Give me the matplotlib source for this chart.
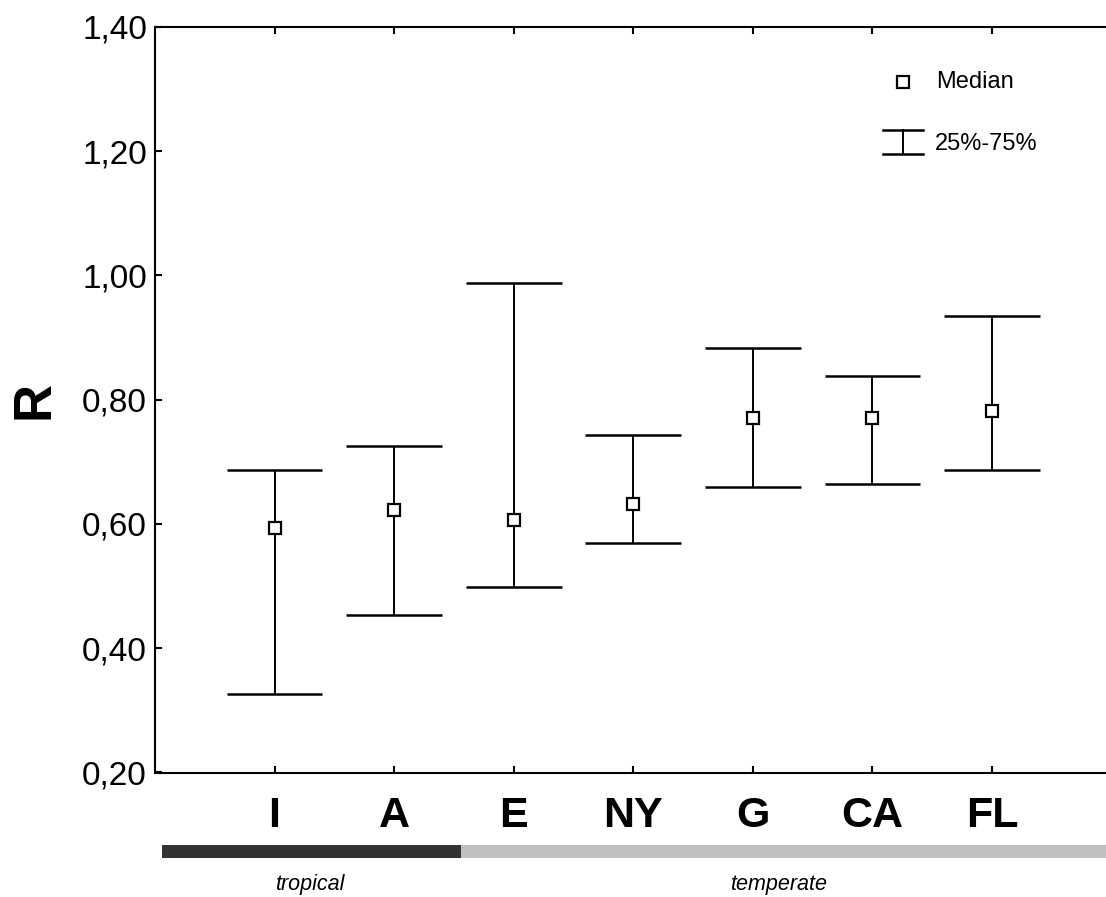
import matplotlib
matplotlib.use("Agg")
import matplotlib.pyplot as plt
from matplotlib.patches import Rectangle

# medians with 25%-75% quartile ranges per site
sites = ["I", "A", "E", "NY", "G", "CA", "FL"]
median = [0.594, 0.623, 0.607, 0.632, 0.771, 0.771, 0.781]
q25 = [0.327, 0.454, 0.498, 0.570, 0.660, 0.664, 0.687]
q75 = [0.687, 0.725, 0.987, 0.743, 0.883, 0.838, 0.935]

yticks = [0.20, 0.40, 0.60, 0.80, 1.00, 1.20, 1.40]
ytick_labels = ["0,20", "0,40", "0,60", "0,80", "1,00", "1,20", "1,40"]

plt.rcParams["font.family"] = ["Liberation Sans", "DejaVu Sans"]

fig = plt.figure(figsize=(11.06, 8.97), dpi=100)
ax = fig.add_axes([155 / 1106, 1 - 772.5 / 897, 951 / 1106, 745.8 / 897])

x = list(range(1, len(sites) + 1))
cap_half = 0.4

ax.vlines(x, q25, q75, color="black", lw=1.4, zorder=2)
ax.hlines(q25, [xi - cap_half for xi in x], [xi + cap_half for xi in x],
          color="black", lw=1.8, zorder=2)
ax.hlines(q75, [xi - cap_half for xi in x], [xi + cap_half for xi in x],
          color="black", lw=1.8, zorder=2)
ax.plot(x, median, ls="none", marker="s", ms=8, mfc="white",
        mec="black", mew=1.6, zorder=3)

ax.set_xlim(0, 7.954)
ax.set_ylim(0.20, 1.40)
ax.set_yticks(yticks, ytick_labels)
ax.set_xticks(x, sites, fontweight="bold", fontsize=31)

ax.spines["right"].set_visible(False)
for side in ("left", "top", "bottom"):
    ax.spines[side].set_linewidth(1.5)

ax.tick_params(axis="y", direction="in", length=5, width=1.5,
               labelsize=24, pad=5.8)
ax.tick_params(axis="x", direction="in", length=5, width=1.5,
               top=True, pad=17)

ax.set_ylabel("R", fontsize=38, fontweight="bold", labelpad=16)

# legend drawn by hand in axes fraction
ax.plot([0.7865], [0.9259], transform=ax.transAxes, ls="none", marker="s",
        ms=8, mfc="white", mec="black", mew=1.6, clip_on=False)
ax.text(0.8212, 0.9259, "Median", transform=ax.transAxes, fontsize=17,
        va="center", ha="left")
ax.plot([0.7655, 0.8076], [0.8615, 0.8615], transform=ax.transAxes,
        color="black", lw=1.8)
ax.plot([0.7655, 0.8076], [0.8289, 0.8289], transform=ax.transAxes,
        color="black", lw=1.8)
ax.plot([0.7865, 0.7865], [0.8289, 0.8615], transform=ax.transAxes,
        color="black", lw=1.4)
ax.text(0.8202, 0.8430, "25%-75%", transform=ax.transAxes, fontsize=17,
        va="center", ha="left")

# climate zone bar under the site labels
bar_y = 1 - 857.7 / 897
bar_h = 12.7 / 897
split = 460.7 / 1106
fig.add_artist(Rectangle((162 / 1106, bar_y), split - 162 / 1106, bar_h,
                         transform=fig.transFigure, color="#333333", lw=0))
fig.add_artist(Rectangle((split, bar_y), 1 - split, bar_h,
                         transform=fig.transFigure, color="#bfbfbf", lw=0))

zone_font = ["Liberation Sans Narrow", "Liberation Sans", "DejaVu Sans"]
fig.text(275 / 1106, 1 - 890 / 897, "tropical", family=zone_font,
         style="italic", fontsize=15.5, va="baseline", ha="left")
fig.text(730 / 1106, 1 - 890 / 897, "temperate", family=zone_font,
         style="italic", fontsize=15.5, va="baseline", ha="left")

fig.savefig("out.png", dpi=100)
